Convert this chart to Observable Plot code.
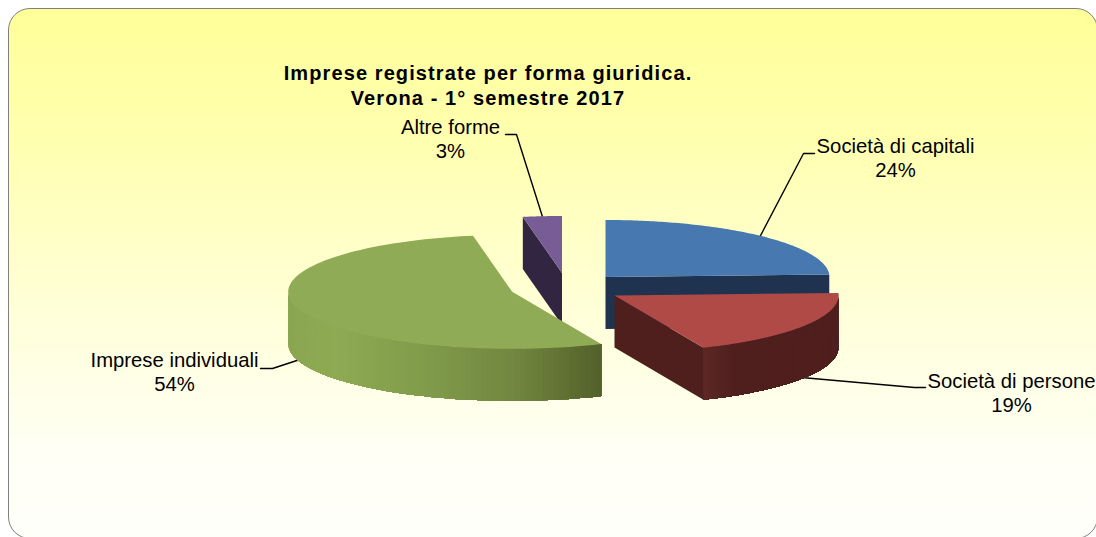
<!DOCTYPE html>
<html>
<head>
<meta charset="utf-8">
<script src="https://cdn.jsdelivr.net/npm/d3@7"></script>
<script src="https://cdn.jsdelivr.net/npm/@observablehq/plot@0.6"></script>
<style>
  html, body { margin: 0; padding: 0; background: #fff; width: 1096px; height: 537px; overflow: hidden; }
  #panel { position: absolute; left: 8px; top: 8px; width: 1088px; height: 529px; box-sizing: content-box;
           border: 1px solid #7f7f7f; border-radius: 22px;
           background: linear-gradient(to bottom, #ffff99 0%, #ffffb0 25%, #ffffdc 60%, #fffff6 85%, #fffffa 100%); }
  #wrap { position: absolute; left: 0; top: 0; width: 1096px; height: 537px; }
  #title { position: absolute; left: 0; top: 61px; width: 976px; text-align: center;
           font: bold 20px/25px "Liberation Sans", Arial, sans-serif; letter-spacing: 1.1px; color: #000; }
  #chart { position: absolute; left: 0; top: 115px; }
</style>
</head>
<body>
<div id="panel"></div>
<div id="wrap">
  <div id="title">Imprese registrate per forma giuridica.<br>Verona - 1° semestre 2017</div>
  <div id="chart"></div>
</div>
<script>
// ---- data ----
const categories = ["Società di capitali", "Società di persone", "Imprese individuali", "Altre forme"];
const shares = [24.3, 19.2, 53.7, 2.8];

// ---- layout of the exploded 3D pie (page pixels) ----
const RX = 224, RY = 57, DEPTH = 52;
const centres = [[605, 276.5], [614, 295], [511.7, 291.3], [561.5, 272.5]];
const topFill = ["#4878b0", "#af4a47", "#8fab55", "#775c95"];
const faceFill = ["#1f3350", "#4f1f1e", "#536128", "#312541"];
const wallRamp = [
  [[0, "#1f3350"], [1, "#1f3350"]],
  [[0, "#5e2826"], [0.12, "#552422"], [0.25, "#4f1f1e"], [1, "#4f1f1e"]],
  [[0, "#8aa650"], [0.15, "#8eaa53"], [0.45, "#7f9a4a"], [0.72, "#71863f"], [0.88, "#5f7033"], [1, "#515f2a"]],
  [[0, "#312541"], [1, "#312541"]]
];
const labelPos = [[895, 157], [1011, 392], [174, 371], [450, 138]];
const elbows = [[[814, 153], [803, 153]], [[925, 387], [914, 387]], [[260, 368], [272, 368]], [[505, 134], [516, 134]]];

const W = 1096, H = 422, TOP = 115;
const rim = (i, deg, drop = 0) => {
  const a = deg * Math.PI / 180;
  return {x: centres[i][0] + RX * Math.sin(a), y: centres[i][1] - RY * Math.cos(a) + drop};
};

let cum = 0;
const slices = shares.map((v, i) => {
  const s = {i, name: categories[i], value: v, a0: cum * 3.6, a1: (cum + v) * 3.6};
  cum += v;
  return s;
});

// polygons, in painting order
const polys = [];
const addPoly = (id, fill, pts) => pts.forEach(p => polys.push({id, fill, x: p.x, y: p.y}));
const addTop = s => {
  const pts = [{x: centres[s.i][0], y: centres[s.i][1]}];
  for (let t = 0; t <= 120; ++t) pts.push(rim(s.i, s.a0 + (s.a1 - s.a0) * t / 120));
  addPoly("top" + s.i, topFill[s.i], pts);
};
const addFace = (s, deg) => {
  const c = {x: centres[s.i][0], y: centres[s.i][1]};
  const r = rim(s.i, deg);
  addPoly("face" + s.i + "-" + deg, faceFill[s.i], [c, r, {x: r.x, y: r.y + DEPTH}, {x: c.x, y: c.y + DEPTH}]);
};
// The wall is painted as nested bands: each band runs from its own angle to the
// end of the wall, and the next one covers all but its first step, so no seams show.
const addWall = (s, from, to) => {
  const N = 80;
  const angle = t => from + (to - from) * t / N;
  const xs = d3.range(0, N + 1).map(t => rim(s.i, angle(t)).x);
  const xmin = d3.min(xs), xmax = d3.max(xs);
  const ramp = d3.scaleLinear().domain(wallRamp[s.i].map(d => d[0])).range(wallRamp[s.i].map(d => d[1])).interpolate(d3.interpolateRgb);
  for (let t = 0; t < N; ++t) {
    const col = d3.rgb(ramp((xs[t] - xmin) / (xmax - xmin))).formatHex();
    const upper = d3.range(t, N + 1).map(k => rim(s.i, angle(k)));
    const lower = upper.map(p => ({x: p.x, y: p.y + DEPTH})).reverse();
    addPoly("wall" + s.i + "-" + t, col, [...upper, ...lower]);
  }
};

const [capitali, persone, individuali, altre] = slices;
addFace(altre, altre.a0);
addTop(altre);
addFace(capitali, capitali.a1);
addTop(capitali);
addFace(persone, persone.a1);
addWall(persone, persone.a0, persone.a1);
addTop(persone);
addWall(individuali, 270, individuali.a0);
addTop(individuali);

// leader lines and labels
const anchorOf = s => {
  const mid = (s.a0 + s.a1) / 2;
  const front = Math.cos(mid * Math.PI / 180) < 0;
  return rim(s.i, mid, front ? DEPTH : 0);
};
const leaders = slices.flatMap(s => {
  const end = anchorOf(s);
  return [...elbows[s.i].map(([x, y]) => ({id: s.i, x, y})), {id: s.i, x: end.x, y: end.y}];
});
const labels = slices.map(s => ({
  text: `${s.name}\n${Math.round(s.value)}%`,
  x: labelPos[s.i][0],
  y: labelPos[s.i][1]
}));

const chart = Plot.plot({
  width: W,
  height: H,
  margin: 0,
  style: {background: "transparent", overflow: "visible"},
  x: {domain: [0, W], range: [0, W], axis: null},
  y: {domain: [TOP, TOP + H], range: [0, H], axis: null},
  marks: [
    Plot.line(leaders, {x: "x", y: "y", z: "id", stroke: "#000", strokeWidth: 1.4, curve: "linear"}),
    Plot.line(polys, {x: "x", y: "y", z: "id", fill: "fill", stroke: "none", curve: "linear"}),
    Plot.text(labels, {
      x: "x", y: "y", text: "text", textAnchor: "middle", lineAnchor: "middle", lineHeight: 1.18,
      fontFamily: "Liberation Sans, Arial, sans-serif", fontSize: 20.3, fill: "#000"
    })
  ]
});
document.getElementById("chart").appendChild(chart);
</script>
</body>
</html>
